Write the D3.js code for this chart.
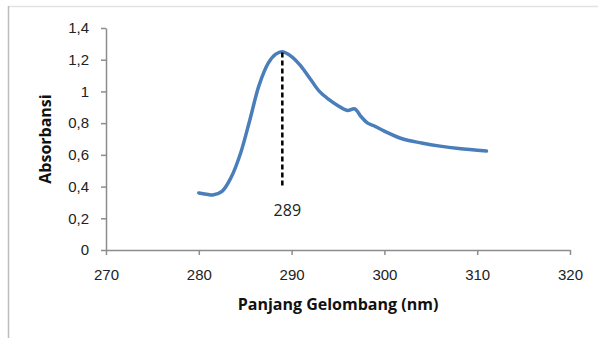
<!DOCTYPE html>
<html>
<head>
<meta charset="utf-8">
<script src="https://cdn.jsdelivr.net/npm/d3@7"></script>
<style>
  body { margin: 0; background: #fff; }
  svg { display: block; font-family: "Open Sans", "Noto Sans", sans-serif; }
</style>
</head>
<body>
<div id="chart"></div>
<script>
// spectrum
const wavelength = [280, 281, 281.5, 282.5, 283.5, 284.5, 285.5, 286.5, 287.5, 288.3, 289,
    290, 291, 292, 293, 294, 295, 296, 296.8, 297.5, 298.2, 299, 300, 302, 304, 306, 308, 311]
const absorbance = [0.36, 0.35, 0.347, 0.37, 0.46, 0.61, 0.82, 1.04, 1.18, 1.235, 1.25,
    1.22, 1.16, 1.08, 1.00, 0.95, 0.91, 0.88, 0.89, 0.84, 0.80, 0.78, 0.75, 0.70, 0.675, 0.655, 0.64, 0.624]

const xTicks = [270, 280, 290, 300, 310, 320]
const yTicks = [0, 0.2, 0.4, 0.6, 0.8, 1, 1.2, 1.4]

const peakX = 289
const peakLabel = "289"
const peakBottom = 0.4

const width = 598, height = 338
let margin = { top: 28, right: 28, bottom: 88, left: 106 }

let svg = d3.select('#chart')
    .append('svg')
    .attr('width', width)
    .attr('height', height)

// outer frame (only top and left show in the picture)
svg.append('line')
    .attr('x1', 8).attr('x2', width).attr('y1', 6.5).attr('y2', 6.5)
    .attr('stroke', '#e2e2e2').attr('stroke-width', 1.5)
svg.append('line')
    .attr('x1', 8.5).attr('x2', 8.5).attr('y1', 6).attr('y2', height)
    .attr('stroke', '#bdbdbd').attr('stroke-width', 1.5)

let x = d3.scaleLinear()
    .domain([270, 320])
    .range([margin.left, width - margin.right])

let y = d3.scaleLinear()
    .domain([0, 1.4])
    .range([height - margin.bottom, margin.top])

const fmt = d => d3.format('')(d).replace('.', ',')

let xAxis = svg.append('g')
    .attr('transform', `translate(0,${y(0)})`)
    .call(d3.axisBottom(x).tickValues(xTicks).tickSize(5).tickPadding(14).tickSizeOuter(0))

let yAxis = svg.append('g')
    .attr('transform', `translate(${x(270)},0)`)
    .call(d3.axisLeft(y).tickValues(yTicks).tickFormat(fmt).tickSize(5).tickPadding(12).tickSizeOuter(0))

svg.selectAll('.domain, .tick line')
    .attr('stroke', '#8c8c8c')
    .attr('stroke-width', 1.5)

svg.selectAll('.tick text')
    .attr('fill', '#222')
    .style('font-size', '15px')

// curve
let line = d3.line()
    .x(d => x(d[0]))
    .y(d => y(d[1]))
    .curve(d3.curveCatmullRom)

svg.append('path')
    .datum(d3.zip(wavelength, absorbance))
    .attr('d', line)
    .attr('fill', 'none')
    .attr('stroke', '#4a7ebb')
    .attr('stroke-width', 3.5)
    .attr('stroke-linecap', 'round')

// peak marker
svg.append('line')
    .attr('x1', x(peakX)).attr('x2', x(peakX))
    .attr('y1', y(1.245)).attr('y2', y(peakBottom))
    .attr('stroke', '#000')
    .attr('stroke-width', 2.5)
    .attr('stroke-dasharray', '5,3')

svg.append('text')
    .attr('x', x(peakX) + 5)
    .attr('y', 216)
    .attr('text-anchor', 'middle')
    .attr('fill', '#222')
    .style('font-size', '16px')
    .text(peakLabel)

// axis titles
svg.append('text')
    .attr('x', 338)
    .attr('y', 310)
    .attr('text-anchor', 'middle')
    .attr('fill', '#111')
    .style('font-size', '16px')
    .style('font-weight', 'bold')
    .text('Panjang Gelombang (nm)')

svg.append('text')
    .attr('transform', `translate(51,${139}) rotate(-90)`)
    .attr('text-anchor', 'middle')
    .attr('fill', '#111')
    .style('font-size', '16px')
    .style('font-weight', 'bold')
    .text('Absorbansi')
</script>
</body>
</html>
